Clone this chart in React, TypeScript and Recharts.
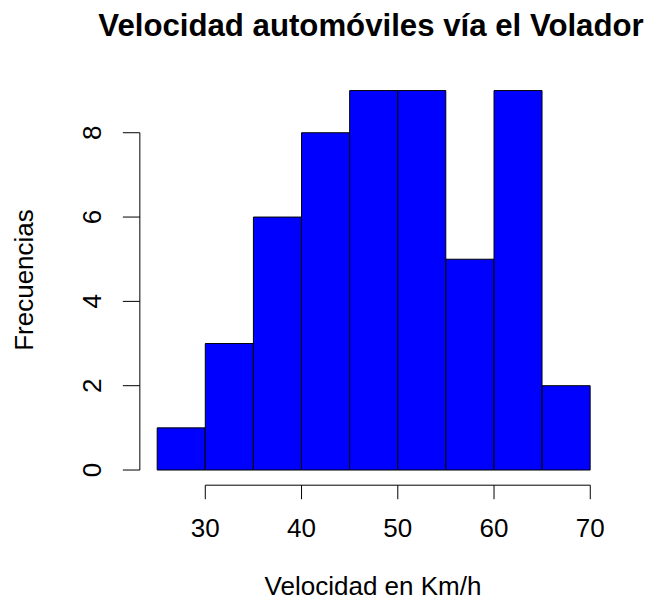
import { Bar, BarChart, ReferenceLine, XAxis, YAxis } from "recharts"

// histogram bins (km/h) and counts
const breaks = [25, 30, 35, 40, 45, 50, 55, 60, 65, 70]
const counts = [1, 3, 6, 8, 9, 9, 5, 9, 2]
const xTicks = [30, 40, 50, 60, 70]
const yTicks = [0, 2, 4, 6, 8]

const title = "Velocidad automóviles vía el Volador"
const xLabel = "Velocidad en Km/h"
const yLabel = "Frecuencias"

const data = counts.map((count, i) => ({
  mid: (breaks[i] + breaks[i + 1]) / 2,
  count,
}))

// R style 4% axis extension
const xLo = breaks[0]
const xHi = breaks[breaks.length - 1]
const xPad = (xHi - xLo) * 0.04
const xDomain = [xLo - xPad, xHi + xPad]
const yMax = Math.max(...counts)
const yPad = yMax * 0.04
const yDomain = [-yPad, yMax + yPad]

const FONT = "'Liberation Sans', Arial, Helvetica, sans-serif"
const FS = 26

function XTick({ x, y, payload }: any) {
  return (
    <text x={x} y={y + 38} textAnchor="middle" fontSize={FS} fontFamily={FONT} fill="#000">
      {payload.value}
    </text>
  )
}

function YTick({ x, y, payload }: any) {
  const bx = x - 22
  return (
    <text
      x={bx}
      y={y}
      transform={`rotate(-90, ${bx}, ${y})`}
      textAnchor="middle"
      fontSize={FS}
      fontFamily={FONT}
      fill="#000"
    >
      {payload.value}
    </text>
  )
}

export default function App() {
  return (
    <div style={{ position: "absolute", left: 0, top: 0, background: "#fff" }}>
      <BarChart
        width={660}
        height={601}
        data={data}
        margin={{ top: 75.4, right: 52.4, left: 79.85, bottom: 85.8 }}
        barCategoryGap={0}
        barGap={0}
      >
        <XAxis
          type="number"
          dataKey="mid"
          domain={xDomain}
          ticks={xTicks}
          allowDataOverflow
          axisLine={false}
          tickLine={{ stroke: "#000" }}
          tickSize={14}
          tickMargin={0}
          height={30}
          tick={<XTick />}
          interval={0}
        />
        <YAxis
          type="number"
          domain={yDomain}
          ticks={yTicks}
          allowDataOverflow
          axisLine={false}
          tickLine={{ stroke: "#000" }}
          tickSize={17}
          tickMargin={0}
          width={60}
          tick={<YTick />}
          interval={0}
        />
        <Bar dataKey="count" fill="#0000FF" stroke="#000" strokeWidth={1} isAnimationActive={false} />
        <ReferenceLine
          segment={[
            { x: xTicks[0], y: yDomain[0] },
            { x: xTicks[xTicks.length - 1], y: yDomain[0] },
          ]}
          stroke="#000"
          ifOverflow="visible"
        />
        <ReferenceLine
          segment={[
            { x: xDomain[0], y: yTicks[0] },
            { x: xDomain[0], y: yTicks[yTicks.length - 1] },
          ]}
          stroke="#000"
          ifOverflow="visible"
        />
        <text x={371} y={36} textAnchor="middle" fontSize={31.2} fontWeight="bold" fontFamily={FONT} fill="#000">
          {title}
        </text>
        <text x={373} y={595} textAnchor="middle" fontSize={FS} fontFamily={FONT} fill="#000">
          {xLabel}
        </text>
        <text
          x={33}
          y={280}
          transform="rotate(-90, 33, 280)"
          textAnchor="middle"
          fontSize={FS}
          fontFamily={FONT}
          fill="#000"
        >
          {yLabel}
        </text>
      </BarChart>
    </div>
  )
}
